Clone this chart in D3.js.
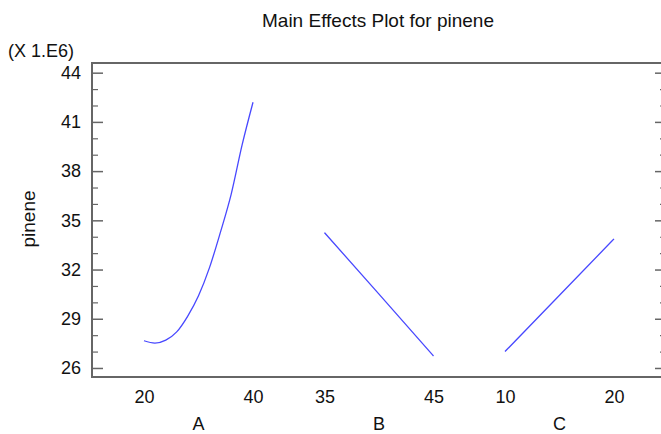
<!DOCTYPE html>
<html>
<head>
<meta charset="utf-8">
<style>
  body { margin: 0; background: #fff; }
  text { font-family: "Liberation Sans", Arial, sans-serif; fill: #111; }
</style>
</head>
<body>
<svg id="chart" width="661" height="434"></svg>

<script src="https://d3js.org/d3.v7.min.js"></script>
<script>
// data (pinene, units of 1E6)
var factors = ["A", "B", "C"];
var levelsA = [20, 22, 24, 26, 28, 30, 32, 34, 36, 38, 40];
var pineneA = [27.66, 27.52, 27.7, 28.2, 29.15, 30.4, 32.1, 34.25, 36.6, 39.6, 42.2];
var levelsB = [35, 40, 45];
var pineneB = [34.25, 30.5, 26.73];
var levelsC = [10, 15, 20];
var pineneC = [27.0, 30.43, 33.87];
var xTickLabels = [[20, 40], [35, 45], [10, 20]];
var yTicks = [26, 29, 32, 35, 38, 41, 44];

var series = [
  { factor: "A", x: levelsA, y: pineneA },
  { factor: "B", x: levelsB, y: pineneB },
  { factor: "C", x: levelsC, y: pineneC }
];

var svg = d3.select("#chart");

// plot frame (note: "top" is taken by window.top, so prefix everything)
var plotLeft = 92, plotRight = 666, plotTop = 63, plotBottom = 377;

var y = d3.scaleLinear()
  .domain([25.45, 44.59])
  .range([plotBottom, plotTop]);

// one band per factor, each band maps its low..high level
var band = d3.scaleBand()
  .domain(factors)
  .range([144, 614])
  .paddingInner(0.396)
  .paddingOuter(0);

function xFor(i) {
  return d3.scaleLinear()
    .domain(xTickLabels[i])
    .range([band(factors[i]), band(factors[i]) + band.bandwidth()]);
}

// minor ticks every 1 unit
var minor = d3.range(26, 45).filter(function (v) { return yTicks.indexOf(v) < 0; });

var gray = "#666";

// left axis
var gl = svg.append("g").attr("transform", "translate(" + plotLeft + ",0)")
  .call(d3.axisLeft(y).tickValues(yTicks).tickSizeInner(-11).tickSizeOuter(0).tickPadding(11));
gl.select(".domain").remove();
gl.selectAll("line").attr("stroke", gray).attr("stroke-width", 1.5);
gl.selectAll("text").attr("font-size", 18).style("font-family", "Liberation Sans, Arial, sans-serif").attr("fill", "#111");

var glm = svg.append("g").attr("transform", "translate(" + plotLeft + ",0)")
  .call(d3.axisLeft(y).tickValues(minor).tickSizeInner(-6).tickSizeOuter(0).tickFormat(""));
glm.select(".domain").remove();
glm.selectAll("line").attr("stroke", gray).attr("stroke-width", 1.2);

// right axis (mirrored ticks, no labels)
var gr = svg.append("g").attr("transform", "translate(" + plotRight + ",0)")
  .call(d3.axisRight(y).tickValues(yTicks).tickSizeInner(-11).tickSizeOuter(0).tickFormat(""));
gr.select(".domain").remove();
gr.selectAll("line").attr("stroke", gray).attr("stroke-width", 1.5);

var grm = svg.append("g").attr("transform", "translate(" + plotRight + ",0)")
  .call(d3.axisRight(y).tickValues(minor).tickSizeInner(-6).tickSizeOuter(0).tickFormat(""));
grm.select(".domain").remove();
grm.selectAll("line").attr("stroke", gray).attr("stroke-width", 1.2);

// frame
svg.append("rect")
  .attr("x", plotLeft).attr("y", plotTop)
  .attr("width", plotRight - plotLeft).attr("height", plotBottom - plotTop)
  .attr("fill", "none").attr("stroke", gray).attr("stroke-width", 2);

// bottom labels per factor
factors.forEach(function (f, i) {
  var x = xFor(i);
  var gb = svg.append("g").attr("transform", "translate(0," + plotBottom + ")")
    .call(d3.axisBottom(x).tickValues(xTickLabels[i]).tickSize(0).tickPadding(13));
  gb.select(".domain").remove();
  gb.selectAll("text").attr("font-size", 18).style("font-family", "Liberation Sans, Arial, sans-serif").attr("fill", "#111");

  svg.append("text")
    .attr("x", band(f) + band.bandwidth() / 2)
    .attr("y", 430)
    .attr("text-anchor", "middle")
    .attr("font-size", 18)
    .text(f);
});

// main effect curves
series.forEach(function (s, i) {
  var x = xFor(i);
  var pts = s.x.map(function (v, j) { return [v, s.y[j]]; });
  svg.append("path")
    .datum(pts)
    .attr("fill", "none")
    .attr("stroke", "#4848ff")
    .attr("stroke-width", 1.3)
    .attr("d", d3.line()
      .curve(d3.curveMonotoneX)
      .x(function (d) { return x(d[0]); })
      .y(function (d) { return y(d[1]); }));
});

// title and labels
svg.append("text")
  .attr("x", 378).attr("y", 27)
  .attr("text-anchor", "middle")
  .attr("font-size", 19)
  .text("Main Effects Plot for pinene");

svg.append("text")
  .attr("x", 8).attr("y", 57)
  .attr("font-size", 18)
  .text("(X 1.E6)");

svg.append("text")
  .attr("transform", "translate(35,219) rotate(-90)")
  .attr("text-anchor", "middle")
  .attr("font-size", 19)
  .text("pinene");
</script>
</body>
</html>
